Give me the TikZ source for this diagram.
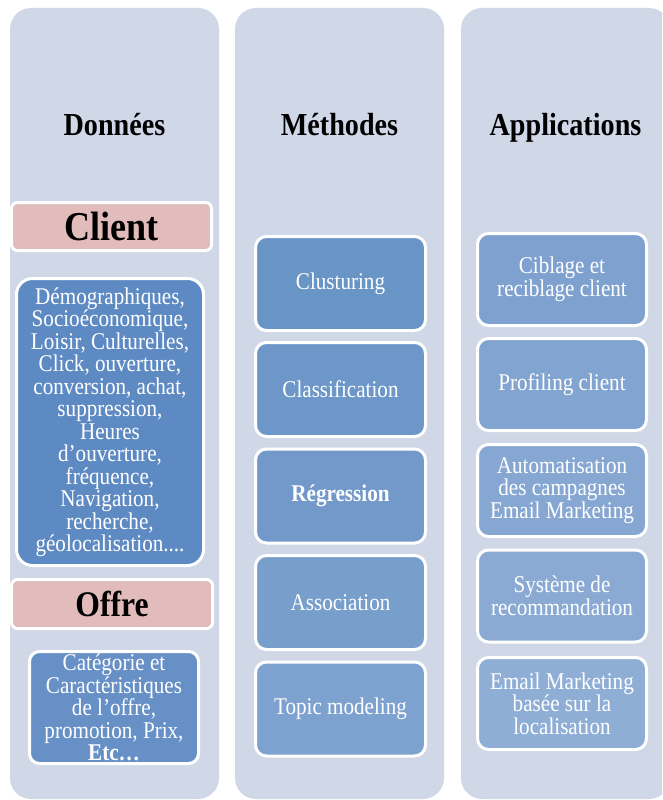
\documentclass[tikz,border=0pt]{standalone}
\usepackage{fontspec}
\setmainfont{Liberation Serif}[FakeStretch=0.88]

\definecolor{panel}{HTML}{D0D7E6}
\definecolor{rose}{HTML}{E2BBBB}
\definecolor{demo}{HTML}{5E8AC3}
\definecolor{cat}{HTML}{6690C6}
\definecolor{mA}{HTML}{6894C6}
\definecolor{mB}{HTML}{6D97C8}
\definecolor{mC}{HTML}{7399CA}
\definecolor{mD}{HTML}{789ECC}
\definecolor{mE}{HTML}{7EA2CF}
\definecolor{aA}{HTML}{7EA1CF}
\definecolor{aB}{HTML}{82A4D0}
\definecolor{aC}{HTML}{86A7D2}
\definecolor{aD}{HTML}{8AAAD4}
\definecolor{aE}{HTML}{8FAED6}

\newcommand\bodyfont{\fontsize{24}{22.5}\selectfont}
\newcommand\headfont{\fontsize{32}{34}\selectfont\bfseries}

\tikzset{
  column/.style={fill=panel, rounded corners=21pt, minimum width=209pt,
    minimum height=791pt, inner sep=0pt},
  head/.style={font=\headfont, text=black, inner sep=0pt, anchor=base},
  tag/.style={fill=rose, draw=white, line width=3pt, rounded corners=6pt,
    text=black, inner sep=0pt},
  card/.style={draw=white, line width=3pt, rounded corners=11pt, text=white,
    align=center, inner sep=0pt, font=\bodyfont},
  methodcard/.style={card, minimum width=170pt, minimum height=94pt},
  appcard/.style={card, minimum width=169pt, minimum height=92pt},
}

\begin{document}
\begin{tikzpicture}[x=1pt,y=-1pt]
\useasboundingbox (0,0) rectangle (662,800);
\clip (0,0) rectangle (662,800);
\fill[white] (0,0) rectangle (662,800);

% three background columns
\node[column] (colData) at (114.5,403.5) {};
\node[column] (colMeth) at (339.5,403.5) {};
\node[column] (colApp)  at (565.5,403.5) {};

% column titles, sharing one baseline
\node[head] (hData) at (114.5,135) {Données};
\node[head] (hMeth) at (339.5,135) {Méthodes};
\node[head] (hApp)  at (565.5,135) {Applications};

% data column
\node[tag, minimum width=200pt, minimum height=48pt,
      font=\fontsize{41}{43}\selectfont\bfseries] (client) at (111.5,226.5) {Client};
\node[card, fill=demo, rounded corners=16pt, minimum width=187pt, minimum height=287pt]
  (clientData) at (110,422) {Démographiques,\\Socioéconomique,\\Loisir, Culturelles,\\
  Click, ouverture,\\conversion, achat,\\suppression,\\Heures\\d’ouverture,\\
  fréquence,\\Navigation,\\recherche,\\géolocalisation....};
\node[tag, minimum width=201pt, minimum height=49pt,
      font=\fontsize{36}{38}\selectfont\bfseries] (offre) at (112,604) {Offre};
\node[card, fill=cat, rounded corners=10pt, minimum width=169pt, minimum height=112pt]
  (offreData) at (114,707.5) {Catégorie et\\Caractéristiques\\de l’offre,\\promotion, Prix,\\
  \textbf{Etc…}};

% methods column
\node[methodcard, fill=mA] (m1) at (340.5,283.5) {Clusturing};
\node[methodcard, fill=mB] (m2) at (340.5,389.5) {Classification};
\node[methodcard, fill=mC] (m3) at (340.5,496) {\textbf{Régression}};
\node[methodcard, fill=mD] (m4) at (340.5,602.5) {Association};
\node[methodcard, fill=mE] (m5) at (340.5,709) {Topic modeling};

% applications column
\node[appcard, fill=aA] (a1) at (562,279.5) {Ciblage et\\reciblage client};
\node[appcard, fill=aB] (a2) at (562,384.5) {Profiling client};
\node[appcard, fill=aC] (a3) at (562,490.5) {Automatisation\\des campagnes\\Email Marketing};
\node[appcard, fill=aD] (a4) at (562,596) {Système de\\recommandation};
\node[appcard, fill=aE] (a5) at (562,703.5) {Email Marketing\\basée sur la\\localisation};
\end{tikzpicture}
\end{document}
